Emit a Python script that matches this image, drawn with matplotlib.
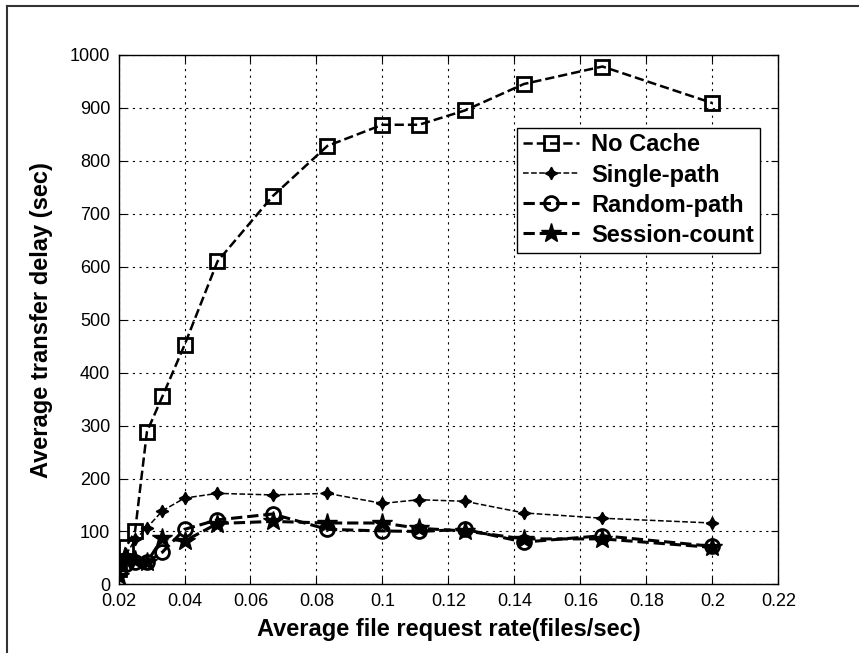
import numpy as np
import matplotlib
matplotlib.use("Agg")
import matplotlib.pyplot as plt
from matplotlib.lines import Line2D

plt.rcParams['font.family'] = ['Liberation Sans', 'DejaVu Sans']

# request rate (files/sec)
rate = [0.02, 0.0222, 0.025, 0.0286, 0.0333, 0.04, 0.05, 0.0667,
        0.0833, 0.1, 0.1111, 0.125, 0.1429, 0.1667, 0.2]

no_cache = [30, 70, 100, 288, 355, 452, 610, 733, 828, 868, 868, 895, 945, 978, 909]
single_path = [30, 55, 85, 107, 139, 163, 172, 169, 172, 153, 160, 157, 135, 125, 116]
random_path = [25, 38, 42, 42, 61, 104, 122, 133, 104, 101, 100, 104, 80, 92, 72]
session_count = [15, 50, 46, 42, 87, 82, 115, 119, 116, 116, 106, 101, 86, 86, 70]

xticks = [0.02, 0.04, 0.06, 0.08, 0.1, 0.12, 0.14, 0.16, 0.18, 0.2, 0.22]
xtick_labels = ['0.02', '0.04', '0.06', '0.08', '0.1', '0.12', '0.14', '0.16', '0.18', '0.2', '0.22']
yticks = list(range(0, 1001, 100))

fig = plt.figure(figsize=(8.59, 6.53), dpi=100)
ax = fig.add_axes([0.138, 0.105, 0.768, 0.811])

ax.plot(rate, no_cache, 'k--', lw=1.8, marker='s', ms=10, mfc='none', mew=2,
        label='No Cache', zorder=3)
ax.plot(rate, single_path, 'k--', lw=1.1, marker=(4, 1, 0), ms=9,
        label='Single-path', zorder=3)
ax.plot(rate, random_path, 'k--', lw=2.2, marker='o', ms=10, mfc='none', mew=2,
        label='Random-path', zorder=3)
ax.plot(rate, session_count, 'k--', lw=2.2, marker='*', ms=15,
        label='Session-count', zorder=3)

ax.set_xlim(0.02, 0.22)
ax.set_ylim(0, 1000)
ax.set_xticks(xticks)
ax.set_xticklabels(xtick_labels)
ax.set_yticks(yticks)
ax.tick_params(direction='in', top=True, right=True, labelsize=13, length=5, pad=6)
ax.grid(True, color='k', linestyle=(0, (2, 4)), linewidth=0.8)
for s in ax.spines.values():
    s.set_linewidth(1.0)

ax.set_xlabel('Average file request rate(files/sec)', fontsize=17, fontweight='bold', labelpad=6)
ax.set_ylabel('Average transfer delay (sec)', fontsize=17, fontweight='bold', labelpad=12)

leg = ax.legend(loc='upper right', bbox_to_anchor=(0.99, 0.885),
                prop={'weight': 'bold', 'size': 17}, frameon=True, fancybox=False,
                edgecolor='k', framealpha=1, handlelength=2.4, borderpad=0.25,
                labelspacing=0.3, handletextpad=0.5)
leg.get_frame().set_linewidth(1.0)

# outer frame of the scanned figure (top and left edges)
fig.add_artist(Line2D([7 / 859, 859 / 859], [1 - 6 / 653, 1 - 6 / 653], color='#333333', lw=1.5))
fig.add_artist(Line2D([7 / 859, 7 / 859], [1 - 6 / 653, 0], color='#333333', lw=1.5))

fig.savefig('out.png', dpi=100)
